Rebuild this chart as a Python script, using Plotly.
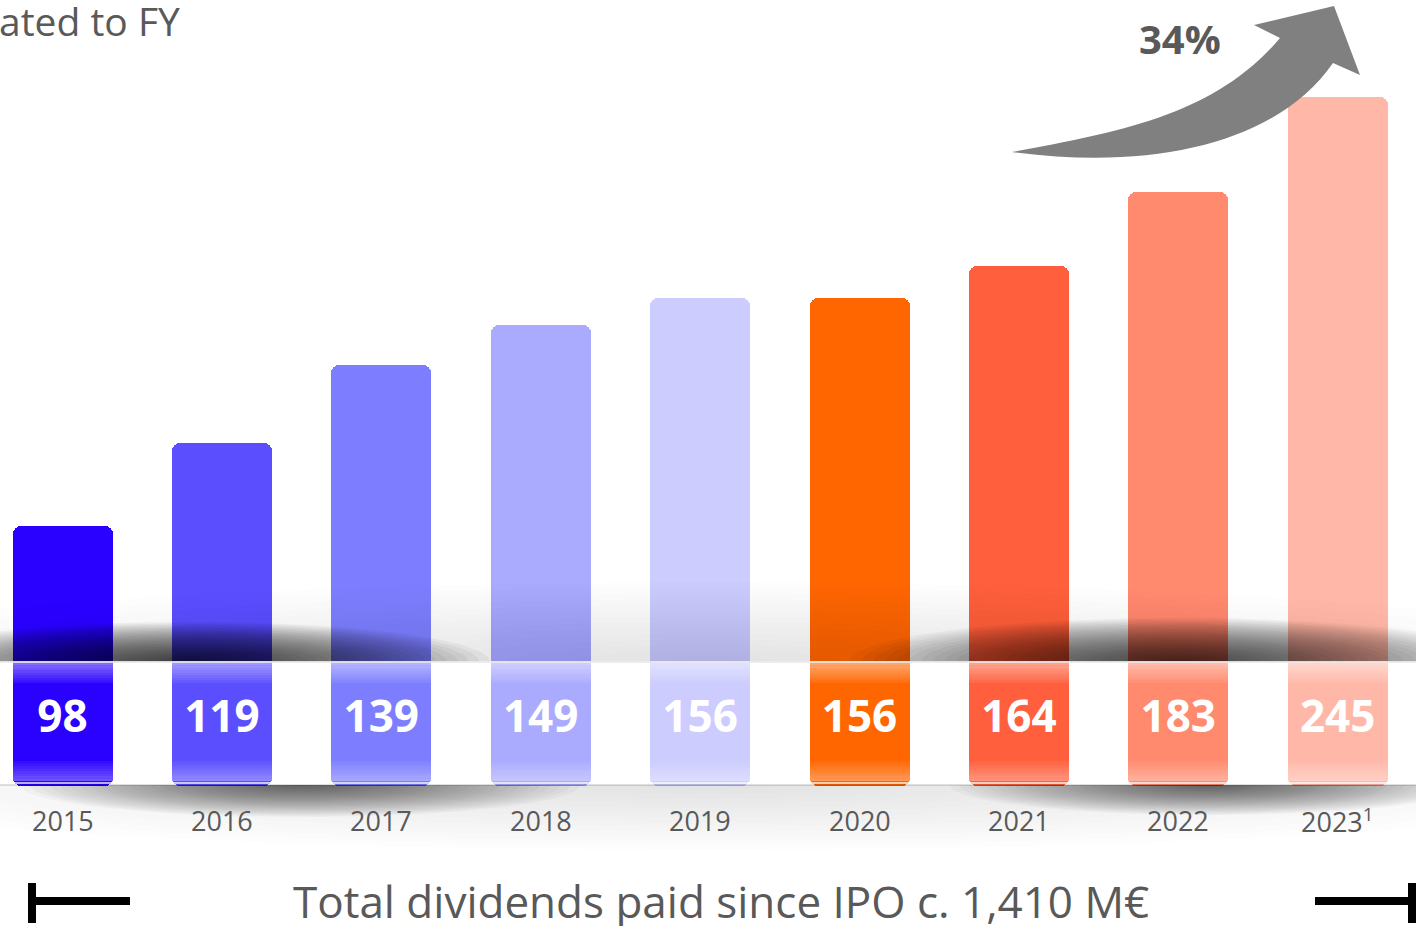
import math
import plotly.graph_objects as go

# ---------------- data ----------------
years = [2015, 2016, 2017, 2018, 2019, 2020, 2021, 2022, 2023]
year_labels = ["2015", "2016", "2017", "2018", "2019", "2020", "2021", "2022", "2023<sup>1</sup>"]
dividends = [98, 119, 139, 149, 156, 156, 164, 183, 245]          # M€, printed on the bars
bar_height_shown = [98, 119, 139, 149, 156, 156, 164, 183, 207]   # height drawn (2023 bar is compressed)
bar_colors = ["#2A00FF", "#5A4EFF", "#7C7EFF", "#AAAAFF", "#CCCCFF",
              "#FF6600", "#FF5F3C", "#FF8A6E", "#FFB8A8"]
growth_label = "34%"
title_text = "Total dividends paid since IPO c. 1,410 M€"
corner_text = "ated to FY"

# ---------------- geometry ----------------
W, H = 1416, 926
K = 3.93          # px per unit on y
ZERO_PX = 911     # pixel row of value 0 (below visible bars)
X0_PX = 62.5      # pixel column of first year
XS = 159.4        # px per year
BASE = (ZERO_PX - 786) / K   # bars start at the band bottom


def vy(py):
    return (ZERO_PX - py) / K


def P(x, y):
    return x / W, 1 - y / H


def path_from_pts(pts):
    s = ""
    for i, (x, y) in enumerate(pts):
        px, py = P(x, y)
        s += ("M" if i == 0 else "L") + f"{px:.5f},{py:.5f} "
    return s + "Z"


def half_ellipse(cx, cy, a, b, up=True, n=60):
    pts = []
    for i in range(n + 1):
        t = math.pi * i / n
        x = cx - a * math.cos(t)
        y = cy - (b * math.sin(t) if up else -b * math.sin(t))
        pts.append((x, y))
    return path_from_pts(pts)


fig = go.Figure()

fig.add_trace(go.Bar(
    x=years,
    y=[v - BASE for v in bar_height_shown],
    base=BASE,
    width=100 / XS,
    marker=dict(color=bar_colors, line=dict(width=0), cornerradius=8),
    hoverinfo="skip",
))

# value labels inside the white band
fig.add_trace(go.Scatter(
    x=years, y=[vy(721)] * len(years), mode="text",
    text=[str(v) for v in dividends],
    textposition="middle center",
    textfont=dict(family="Open Sans", size=44, color="white", weight=700),
    hoverinfo="skip",
))

shapes = []


def shadow(cx, cy, a, b, up, n, peak):
    alpha = 1 - (1 - peak) ** (1.0 / n)
    for i in range(n, 0, -1):
        f = i / n
        shapes.append(dict(type="path", xref="paper", yref="paper",
                           path=half_ellipse(cx, cy, a * f, b * f, up),
                           fillcolor=f"rgba(0,0,0,{alpha:.4f})", line=dict(width=0), layer="above"))


BAND_TOP, BAND_BOT = 662, 785
shadow(708, BAND_TOP, 950, 80, True, 14, 0.10)
shadow(190, BAND_TOP, 300, 40, True, 28, 0.72)
shadow(1180, BAND_TOP, 330, 44, True, 28, 0.66)
shadow(708, BAND_BOT, 950, 65, False, 14, 0.09)
shadow(300, BAND_BOT, 280, 32, False, 28, 0.55)
shadow(1210, BAND_BOT, 260, 30, False, 28, 0.52)

# band highlights
for i in range(8):
    y0 = BAND_TOP + 1 + i * 2.5
    shapes.append(dict(type="rect", xref="paper", yref="paper",
                       x0=0, x1=1, y0=P(0, y0)[1], y1=P(0, y0 + 2.5)[1],
                       fillcolor=f"rgba(255,255,255,{0.42 - i * 0.05:.3f})",
                       line=dict(width=0), layer="above"))
for i in range(8):
    y1 = BAND_BOT - 4 - i * 2.5
    shapes.append(dict(type="rect", xref="paper", yref="paper",
                       x0=0, x1=1, y0=P(0, y1 - 2.5)[1], y1=P(0, y1)[1],
                       fillcolor=f"rgba(255,255,255,{0.32 - i * 0.038:.3f})",
                       line=dict(width=0), layer="above"))
shapes.append(dict(type="line", xref="paper", yref="paper", x0=0, x1=1,
                   y0=P(0, BAND_TOP)[1], y1=P(0, BAND_TOP)[1],
                   line=dict(color="rgba(235,235,235,0.9)", width=2), layer="above"))
shapes.append(dict(type="line", xref="paper", yref="paper", x0=0, x1=1,
                   y0=P(0, BAND_BOT - 2)[1], y1=P(0, BAND_BOT - 2)[1],
                   line=dict(color="rgba(255,255,255,0.9)", width=1.5), layer="above"))
shapes.append(dict(type="line", xref="paper", yref="paper", x0=0, x1=1,
                   y0=P(0, BAND_BOT)[1], y1=P(0, BAND_BOT)[1],
                   line=dict(color="rgba(0,0,0,0.12)", width=2), layer="above"))


# growth arrow
def c(x, y):
    px, py = P(x, y)
    return f"{px:.5f},{py:.5f}"


arrow = (f"M{c(1012,152)} C{c(1120,132)} {c(1215,115)} {c(1280,38)} "
         f"L{c(1254,25)} L{c(1334,6)} L{c(1360,75)} L{c(1333,63)} "
         f"C{c(1280,140)} {c(1160,172)} {c(1012,152)} Z")
shapes.append(dict(type="path", xref="paper", yref="paper", path=arrow,
                   fillcolor="#808080", line=dict(width=0), layer="above"))


# bracket lines at bottom
def pline(x0, y0, x1, y1, w=8):
    a, b = P(x0, y0)
    cc, d = P(x1, y1)
    shapes.append(dict(type="line", xref="paper", yref="paper", x0=a, y0=b, x1=cc, y1=d,
                       line=dict(color="black", width=w), layer="above"))


pline(32, 883, 32, 923)
pline(32, 901, 130, 901)
pline(1315, 901, 1412, 901)
pline(1412, 883, 1412, 923)

annotations = [
    dict(text=lab, xref="x", yref="y", x=yr, y=vy(820),
         xanchor="center", yanchor="middle", showarrow=False,
         font=dict(family="Open Sans", size=27, color="#595959"))
    for yr, lab in zip(years, year_labels)
]
annotations += [
    dict(text=title_text, xref="paper", yref="paper", x=P(721, 0)[0], y=P(0, 901)[1],
         xanchor="center", yanchor="middle", showarrow=False,
         font=dict(family="Open Sans", size=44, color="#595959")),
    dict(text=growth_label, xref="paper", yref="paper", x=P(1180, 0)[0], y=P(0, 38)[1],
         xanchor="center", yanchor="middle", showarrow=False,
         font=dict(family="Open Sans", size=40, color="#595959", weight=700)),
    dict(text=corner_text, xref="paper", yref="paper", x=P(-3, 0)[0], y=P(0, 20)[1],
         xanchor="left", yanchor="middle", showarrow=False,
         font=dict(family="Open Sans", size=39, color="#595959")),
]

fig.update_layout(
    width=W, height=H,
    margin=dict(l=0, r=0, t=0, b=0),
    paper_bgcolor="white", plot_bgcolor="white",
    showlegend=False,
    xaxis=dict(range=[2015 - X0_PX / XS, 2015 + (W - X0_PX) / XS], visible=False, fixedrange=True),
    yaxis=dict(range=[vy(H), vy(0)], visible=False, fixedrange=True),
    shapes=shapes,
    annotations=annotations,
    bargap=0,
)

fig.write_html("out.html", config={"displayModeBar": False},
               post_script="document.body.style.margin='0';document.body.style.padding='0';")
